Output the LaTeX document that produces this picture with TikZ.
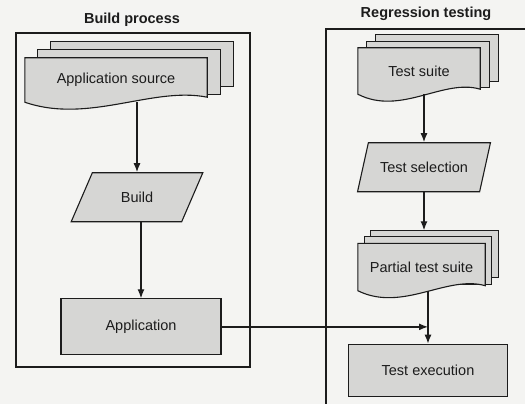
\documentclass[tikz,border=0pt]{standalone}
\usepackage{fontspec}
\setmainfont{Liberation Sans}
\usetikzlibrary{arrows.meta,positioning,calc,shapes.geometric,backgrounds}
\definecolor{ink}{HTML}{1C1C1C}
\definecolor{paper}{HTML}{F4F4F2}
\definecolor{shade}{HTML}{D6D6D4}

% stacked document shape behind a node: two back sheets and a wavy front page
\newcommand{\sheetstack}[3]{%
  \begin{scope}[on background layer]
    \draw[sheet] ([shift={(2*#2,-2*#3)}]#1.north west) rectangle ([shift={(2*#2,-2*#3)}]#1.south east);
    \draw[sheet] ([shift={(#2,-#3)}]#1.north west) rectangle ([shift={(#2,-#3)}]#1.south east);
    \draw[sheet] (#1.north west) -- (#1.north east) -- ([yshift=5pt]#1.south east)
      .. controls ($(#1.south west)!.7!(#1.south east)+(0,-16)$) and ($(#1.south west)!.35!(#1.south east)+(0,22)$) .. (#1.south west) -- cycle;
  \end{scope}}

\begin{document}
\begin{tikzpicture}[x=1pt,y=-1pt,every node/.style={font=\fontsize{14.5}{16}\selectfont,text=ink},
  title/.style={font=\fontsize{14.5}{16}\selectfont\bfseries},
  frame/.style={draw=ink,line width=1.3pt},
  sheet/.style={draw=ink,fill=shade,line width=1.1pt},
  box/.style={draw=ink,fill=shade,line width=1.1pt},
  doc/.style={inner sep=0pt},
  datashape/.style={trapezium,trapezium left angle=62,trapezium right angle=118,trapezium stretches=true,
    draw=ink,fill=shade,line width=1.1pt,minimum width=132pt,minimum height=49pt},
  arr/.style={-{Latex[length=9pt,width=7pt]},line width=1.3pt,draw=ink}]
\useasboundingbox (0,0) rectangle (525,404);
\begin{scope}[on background layer]
  \fill[paper] (0,0) rectangle (525,404);
\end{scope}

% the two swimlanes
\draw[frame] (16,33) rectangle (250,367);
\draw[frame] (526,29) -| (326,405);
\node[title] (buildttl) at (132,20) {Build process};
\node[title] (regrttl) at (426,14) {Regression testing};

% build process
\node[doc,minimum width=182pt,minimum height=44pt] (src) at (116,80) {Application source};
\sheetstack{src}{13}{8}
\node[datashape,below=70pt of src,xshift=21pt] (build) {Build};
\node[box,minimum width=160pt,minimum height=56pt,below=76pt of build,xshift=4pt] (app) {Application};

% regression testing
\node[doc,minimum width=122pt,minimum height=46pt] (suite) at (419,71) {Test suite};
\sheetstack{suite}{9}{6.5}
\node[datashape,minimum width=133pt,below=48pt of suite,xshift=5pt] (testsel) {Test selection};
\node[doc,minimum width=127pt,minimum height=47pt,below=51pt of testsel,xshift=-2.5pt] (partial) {Partial test suite};
\sheetstack{partial}{6.5}{6.5}
\node[box,minimum width=159pt,minimum height=52pt,below=53pt of partial,xshift=6.5pt] (exec) {Test execution};

\draw[arr] (build.north |- src.south) -- (build.north);
\draw[arr] (app.north |- build.south) -- (app.north);
\draw[arr] (testsel.north |- suite.south) -- (testsel.north);
\draw[arr] (testsel.south) -- ([yshift=13pt]testsel.south |- partial.north);
\draw[arr] (exec.north |- partial.south) -- (exec.north);
\draw[arr] (app.east) -- (app.east -| exec.north);
\end{tikzpicture}
\end{document}
